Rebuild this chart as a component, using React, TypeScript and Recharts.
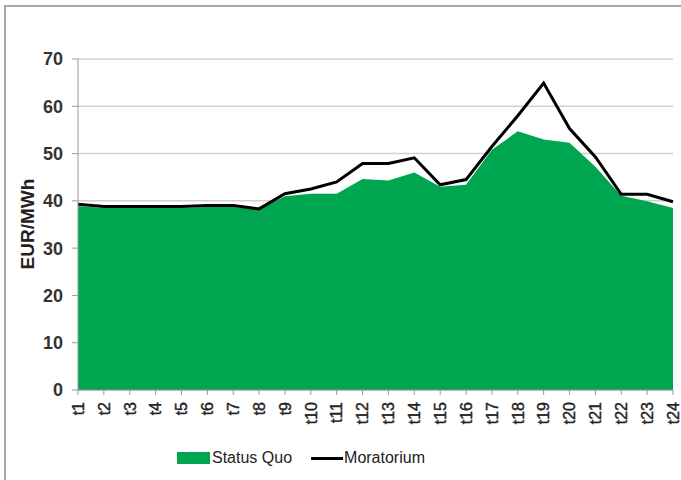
import React from 'react';
import {
  ComposedChart,
  Area,
  Line,
  XAxis,
  YAxis,
  CartesianGrid,
  Legend
} from 'recharts';

const periods = ['t1', 't2', 't3', 't4', 't5', 't6', 't7', 't8', 't9', 't10', 't11', 't12',
  't13', 't14', 't15', 't16', 't17', 't18', 't19', 't20', 't21', 't22', 't23', 't24'];

const statusQuo = [38.9, 38.5, 38.5, 38.5, 38.5, 38.7, 38.7, 38.2, 41, 41.5, 41.5, 44.6,
  44.3, 46, 43, 43.4, 50.8, 54.7, 53, 52.3, 47.2, 41.1, 39.9, 38.5];

const moratorium = [39.3, 38.8, 38.8, 38.8, 38.8, 39, 39, 38.3, 41.5, 42.5, 44, 47.9,
  47.9, 49.1, 43.4, 44.5, 51.5, 58, 64.9, 55.3, 49.3, 41.4, 41.4, 39.8];

const yTicks = [0, 10, 20, 30, 40, 50, 60, 70];

const data = periods.map((p, i) => ({
  period: p,
  statusQuo: statusQuo[i],
  moratorium: moratorium[i]
}));

const FONT = 'Arial, "Liberation Sans", Helvetica, sans-serif';

const XTick = (props: any) => {
  const { x, y, payload } = props;
  return (
    <text
      transform={`translate(${x},${y}) rotate(-90)`}
      textAnchor="end"
      dy="0.36em"
      fontSize={16}
      fontFamily={FONT}
      fill="#222"
      stroke="#222"
      strokeWidth={0.4}
    >
      {payload.value}
    </text>
  );
};

const YTick = (props: any) => {
  const { x, y, payload } = props;
  return (
    <text
      x={x}
      y={y}
      textAnchor="end"
      dy="0.36em"
      fontSize={18}
      fontWeight="bold"
      fontFamily={FONT}
      fill="#333"
    >
      {payload.value}
    </text>
  );
};

const LegendContent = () => (
  <div
    style={{
      display: 'flex',
      alignItems: 'center',
      fontFamily: FONT,
      fontSize: 16,
      color: '#222',
      paddingLeft: 177
    }}
  >
    <span style={{ display: 'inline-block', width: 33, height: 12, background: '#00a54f', marginRight: 2 }} />
    <span style={{ marginRight: 19 }}>Status Quo</span>
    <span style={{ display: 'inline-block', width: 32, height: 3, background: '#000', marginRight: 1 }} />
    <span>Moratorium</span>
  </div>
);

export default function App() {
  return (
    <div style={{ position: 'absolute', left: 0, top: 0, width: 681, height: 480, overflow: 'hidden', background: '#fff' }}>
      <ComposedChart
        width={681}
        height={480}
        data={data}
        margin={{ top: 59, right: 8, bottom: 32, left: 0 }}
      >
        <CartesianGrid vertical={false} stroke="#d8cdcd" strokeWidth={1.5} />
        <XAxis
          dataKey="period"
          interval={0}
          height={40}
          tick={<XTick />}
          tickSize={5}
          tickMargin={7}
          stroke="#999"
          padding={{ left: 0, right: 0 }}
        />
        <YAxis
          domain={[0, 70]}
          ticks={yTicks}
          width={78}
          tick={<YTick />}
          tickSize={6}
          tickMargin={9}
          stroke="#999"
          label={() => (
            <text
              transform="translate(27,224) rotate(-90)"
              textAnchor="middle"
              dy="0.35em"
              fontSize={19}
              fontWeight="bold"
              fontFamily={FONT}
              fill="#222"
            >
              EUR/MWh
            </text>
          )}
        />
        <Area
          type="linear"
          dataKey="statusQuo"
          name="Status Quo"
          fill="#00a54f"
          fillOpacity={1}
          stroke="none"
          isAnimationActive={false}
        />
        <Line
          type="linear"
          dataKey="moratorium"
          name="Moratorium"
          stroke="#000"
          strokeWidth={3}
          dot={false}
          isAnimationActive={false}
        />
        <Legend
          content={<LegendContent />}
          wrapperStyle={{ position: 'absolute', top: 449, left: 0, width: 681 }}
        />
      </ComposedChart>
      <div
        style={{
          position: 'absolute',
          left: 4,
          top: 5,
          width: 720,
          height: 520,
          borderTop: '2px solid #a8a8a8',
          borderLeft: '2px solid #a8a8a8',
          pointerEvents: 'none'
        }}
      />
    </div>
  );
}
